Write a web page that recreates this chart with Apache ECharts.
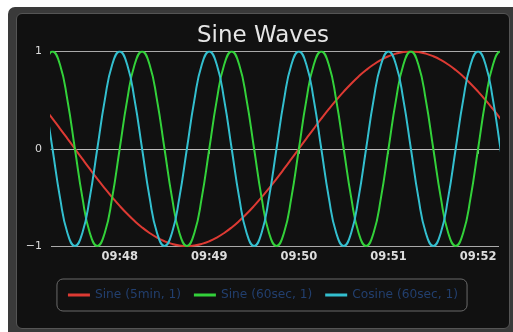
<!DOCTYPE html>
<html>
<head>
<meta charset="utf-8">
<script src="https://cdn.jsdelivr.net/npm/echarts@6/dist/echarts.min.js"></script>
<style>
  html, body { margin: 0; padding: 0; background: #ffffff; width: 513px; height: 332px; overflow: hidden; }
  #frame { position: absolute; left: 8px; top: 7px; width: 520px; height: 340px; background: #3a3a3a; border-radius: 7px; }
  #panel { position: absolute; left: 16px; top: 13px; width: 494px; height: 316px; box-sizing: border-box; background: #111111; border: 1.5px solid #555555; border-radius: 6px; }
  #chart { position: absolute; left: 16px; top: 13px; width: 494px; height: 316px; }
</style>
</head>
<body>
<div id="frame"></div>
<div id="panel"></div>
<div id="chart"></div>
<script>
// ---- data ----
const times = [
  '09:47:10','09:47:15','09:47:20','09:47:25','09:47:30','09:47:35','09:47:40','09:47:45','09:47:50','09:47:55',
  '09:48:00','09:48:05','09:48:10','09:48:15','09:48:20','09:48:25','09:48:30','09:48:35','09:48:40','09:48:45','09:48:50','09:48:55',
  '09:49:00','09:49:05','09:49:10','09:49:15','09:49:20','09:49:25','09:49:30','09:49:35','09:49:40','09:49:45','09:49:50','09:49:55',
  '09:50:00','09:50:05','09:50:10','09:50:15','09:50:20','09:50:25','09:50:30','09:50:35','09:50:40','09:50:45','09:50:50','09:50:55',
  '09:51:00','09:51:05','09:51:10','09:51:15','09:51:20','09:51:25','09:51:30','09:51:35','09:51:40','09:51:45','09:51:50','09:51:55',
  '09:52:00','09:52:05','09:52:10','09:52:15','09:52:20'
];
const sine5min = [
  0.4067, 0.3090, 0.2079, 0.1045, 0, -0.1045, -0.2079, -0.3090, -0.4067, -0.5,
  -0.5878, -0.6691, -0.7431, -0.8090, -0.8660, -0.9135, -0.9511, -0.9781, -0.9945, -1, -0.9945, -0.9781,
  -0.9511, -0.9135, -0.8660, -0.8090, -0.7431, -0.6691, -0.5878, -0.5, -0.4067, -0.3090, -0.2079, -0.1045,
  0, 0.1045, 0.2079, 0.3090, 0.4067, 0.5, 0.5878, 0.6691, 0.7431, 0.8090, 0.8660, 0.9135,
  0.9511, 0.9781, 0.9945, 1, 0.9945, 0.9781, 0.9511, 0.9135, 0.8660, 0.8090, 0.7431, 0.6691,
  0.5878, 0.5, 0.4067, 0.3090, 0.2079
];
const sine60sec = [
  0.866, 1, 0.866, 0.5, 0, -0.5, -0.866, -1, -0.866, -0.5,
  0, 0.5, 0.866, 1, 0.866, 0.5, 0, -0.5, -0.866, -1, -0.866, -0.5,
  0, 0.5, 0.866, 1, 0.866, 0.5, 0, -0.5, -0.866, -1, -0.866, -0.5,
  0, 0.5, 0.866, 1, 0.866, 0.5, 0, -0.5, -0.866, -1, -0.866, -0.5,
  0, 0.5, 0.866, 1, 0.866, 0.5, 0, -0.5, -0.866, -1, -0.866, -0.5,
  0, 0.5, 0.866, 1, 0.866
];
const cosine60sec = [
  0.5, 0, -0.5, -0.866, -1, -0.866, -0.5, 0, 0.5, 0.866,
  1, 0.866, 0.5, 0, -0.5, -0.866, -1, -0.866, -0.5, 0, 0.5, 0.866,
  1, 0.866, 0.5, 0, -0.5, -0.866, -1, -0.866, -0.5, 0, 0.5, 0.866,
  1, 0.866, 0.5, 0, -0.5, -0.866, -1, -0.866, -0.5, 0, 0.5, 0.866,
  1, 0.866, 0.5, 0, -0.5, -0.866, -1, -0.866, -0.5, 0, 0.5, 0.866,
  1, 0.866, 0.5, 0, -0.5
];
const seriesNames = ['Sine (5min, 1)', 'Sine (60sec, 1)', 'Cosine (60sec, 1)'];
const xTickLabels = ['09:48', '09:49', '09:50', '09:51', '09:52'];
const yTickValues = [-1, 0, 1];
const axisStart = '09:47:14';
const axisEnd = '09:52:14';
const titleText = 'Sine Waves';

// ---- build ----
function toSec(s) { const p = s.split(':').map(Number); return p[0] * 3600 + p[1] * 60 + (p[2] || 0); }
const tickVals = xTickLabels.map(toSec);
const xs = times.map(toSec);
const pairs = arr => arr.map((v, i) => [xs[i], v]);
const colors = ['#dd3a33', '#33d13a', '#33bfcf'];
const FONT = 'DejaVu Sans';

const chart = echarts.init(document.getElementById('chart'), null, { renderer: 'canvas' });
chart.setOption({
  animation: false,
  backgroundColor: 'transparent',
  title: {
    text: titleText, left: 'center', top: 12, padding: 0,
    textStyle: { color: '#e6e6e6', fontSize: 23, fontWeight: 'normal', fontFamily: FONT }
  },
  legend: {
    data: seriesNames, left: 'center', top: 266,
    padding: [10, 9, 10, 11], itemGap: 13, itemWidth: 22, itemHeight: 3, icon: 'rect',
    borderColor: '#6a6a6a', borderWidth: 1, borderRadius: 6,
    textStyle: { color: '#223f6e', fontSize: 12.2, fontFamily: FONT }
  },
  grid: { left: 35, right: 11, top: 38.5, bottom: 83, containLabel: false },
  xAxis: {
    type: 'value', min: toSec(axisStart), max: toSec(axisEnd),
    axisLine: { show: true, lineStyle: { color: '#bbbbbb', width: 1 } },
    axisTick: { show: true, customValues: tickVals, length: 5, lineStyle: { color: '#bbbbbb' } },
    axisLabel: {
      customValues: tickVals, margin: 5,
      formatter: v => xTickLabels[tickVals.indexOf(v)],
      color: '#dddddd', fontSize: 11.5, fontWeight: 'bold', fontFamily: FONT
    },
    splitLine: { show: false }
  },
  yAxis: {
    type: 'value', min: -1, max: 1, interval: 1,
    axisLine: { show: false }, axisTick: { show: false },
    axisLabel: {
      customValues: yTickValues, margin: 9,
      formatter: v => (v < 0 ? '\u2212' + (-v) : String(v)),
      color: '#dddddd', fontSize: 11, fontFamily: FONT
    },
    splitLine: { show: true, lineStyle: { color: '#aaaaaa', width: 1 } }
  },
  series: [
    { name: seriesNames[0], type: 'line', data: pairs(sine5min), smooth: true, showSymbol: false, symbol: 'none', lineStyle: { width: 2, color: colors[0] }, itemStyle: { color: colors[0] } },
    { name: seriesNames[1], type: 'line', data: pairs(sine60sec), smooth: true, showSymbol: false, symbol: 'none', lineStyle: { width: 2, color: colors[1] }, itemStyle: { color: colors[1] } },
    { name: seriesNames[2], type: 'line', data: pairs(cosine60sec), smooth: true, showSymbol: false, symbol: 'none', lineStyle: { width: 2, color: colors[2] }, itemStyle: { color: colors[2] } }
  ]
});
</script>
</body>
</html>
